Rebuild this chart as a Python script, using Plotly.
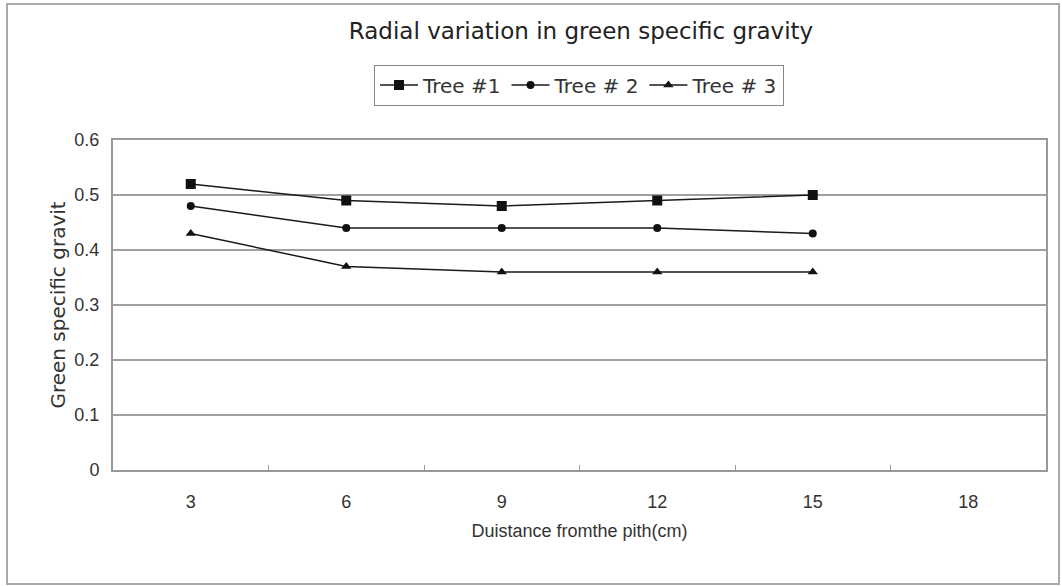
import plotly.graph_objects as go

categories = ["3", "6", "9", "12", "15", "18"]
tree1 = [0.52, 0.49, 0.48, 0.49, 0.50]
tree2 = [0.48, 0.44, 0.44, 0.44, 0.43]
tree3 = [0.43, 0.37, 0.36, 0.36, 0.36]
series_names = ["Tree #1", "Tree # 2", "Tree # 3"]
y_ticks = [0, 0.1, 0.2, 0.3, 0.4, 0.5, 0.6]
y_tick_text = ["0", "0.1", "0.2", "0.3", "0.4", "0.5", "0.6"]

W, H = 1062, 586
L, R, T, B = 113, 16, 140, 116
pw, ph = W - L - R, H - T - B

fig = go.Figure()
symbols = ["square", "circle", "triangle-up"]
sizes = [10, 8, 9]
for name, vals, sym, sz in zip(series_names, [tree1, tree2, tree3], symbols, sizes):
    fig.add_trace(go.Scatter(
        x=categories[:len(vals)], y=vals, name=name, mode="lines+markers",
        line=dict(color="#1a1a1a", width=1.5),
        marker=dict(symbol=sym, size=sz, color="#111111"),
    ))

def px_x(p):
    return (p - L) / pw

def px_y(p):
    return (H - B - p) / ph

TXT = "#333333"
fig.update_layout(
    width=W, height=H,
    margin=dict(l=L, r=R, t=T, b=B),
    paper_bgcolor="white", plot_bgcolor="white",
    font=dict(family="Liberation Sans, Arial, sans-serif", color=TXT, size=18),
    title=dict(text="Radial variation in green specific gravity", xref="container",
               x=581 / W, xanchor="center", y=1 - 31 / H, yanchor="middle",
               font=dict(family="DejaVu Sans, sans-serif", size=23, color="#222222")),
    showlegend=True,
    legend=dict(orientation="h", x=px_x(579), xanchor="center", y=px_y(85), yanchor="middle",
                bordercolor="#888888", borderwidth=1,
                font=dict(family="DejaVu Sans, sans-serif", size=20, color=TXT),
                itemwidth=38, tracegroupgap=0),
    xaxis=dict(type="category", categoryorder="array", categoryarray=categories,
               range=[-0.5, 5.5], tickson="boundaries", ticks="inside", ticklen=5,
               tickcolor="#999999", showgrid=False, showline=True, linecolor="#999999", linewidth=2,
               mirror=True, tickfont=dict(size=18, color=TXT), ticklabelstandoff=14,
               title=dict(text="Duistance fromthe pith(cm)",
                          font=dict(family="Liberation Sans, sans-serif", size=18, color=TXT),
                          standoff=14)),
    yaxis=dict(range=[0, 0.6], tickvals=y_ticks, ticktext=y_tick_text, showgrid=True,
               gridcolor="#a0a0a0", gridwidth=1.5, showline=True, linecolor="#999999", linewidth=2,
               mirror=True, ticks="", zeroline=False, tickfont=dict(size=18, color=TXT),
               ticklabelstandoff=8,
               title=dict(text="Green specific gravit",
                          font=dict(family="DejaVu Sans, sans-serif", size=20, color=TXT),
                          standoff=3)),
    shapes=[dict(type="rect", xref="paper", yref="paper",
                 x0=px_x(7), x1=px_x(1059), y0=px_y(584), y1=px_y(4),
                 line=dict(color="#aaaaaa", width=2), layer="below")],
)

fig.write_html("out.html")
